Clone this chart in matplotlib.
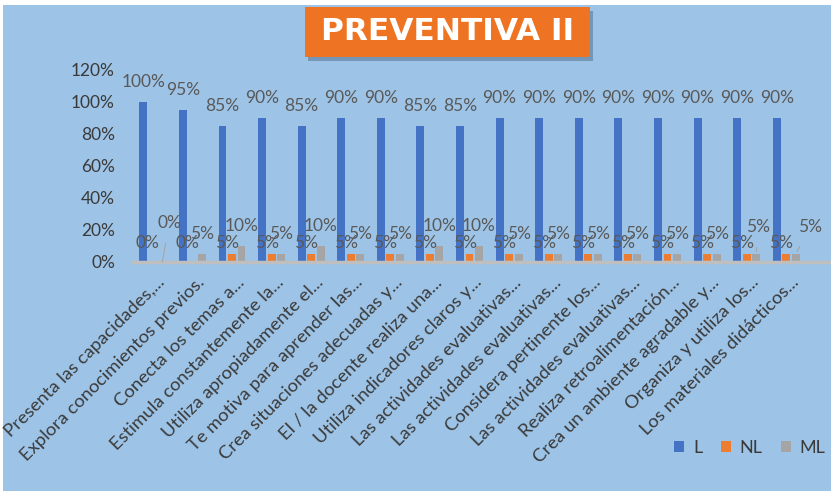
import matplotlib.pyplot as plt
import matplotlib.patches as mpatches
import numpy as np
from matplotlib.transforms import ScaledTranslation

categorias = [
    "Presenta las capacidades,...",
    "Explora conocimientos previos.",
    "Conecta los temas a...",
    "Estimula constantemente la...",
    "Utiliza apropiadamente el...",
    "Te motiva para aprender las...",
    "Crea situaciones adecuadas y...",
    "El / la docente realiza una...",
    "Utiliza indicadores claros y...",
    "Las actividades evaluativas...",
    "Las actividades evaluativas...",
    "Considera pertinente los...",
    "Las actividades evaluativas...",
    "Realiza retroalimentación...",
    "Crea un ambiente agradable y...",
    "Organiza y utiliza los...",
    "Los materiales didácticos...",
]
L = [100, 95, 85, 90, 85, 90, 90, 85, 85, 90, 90, 90, 90, 90, 90, 90, 90]
NL = [0, 0, 5, 5, 5, 5, 5, 5, 5, 5, 5, 5, 5, 5, 5, 5, 5]
ML = [0, 5, 10, 5, 10, 5, 5, 10, 10, 5, 5, 5, 5, 5, 5, 5, 5]
yticks = [0, 20, 40, 60, 80, 100, 120]

fondo = "#9DC3E6"
c_L, c_NL, c_ML = "#4472C4", "#ED7D31", "#A5A5A5"
gris = "#595959"
plt.rcParams['font.family'] = ['Lato', 'DejaVu Sans']

fig = plt.figure(figsize=(8.31, 4.91), dpi=100, facecolor="white")
# fondo azul con pequeño margen blanco arriba/izquierda
fig.patches.append(mpatches.Rectangle((3/831, 0), 1, 1 - 5/491, transform=fig.transFigure,
                                      facecolor=fondo, edgecolor="none", zorder=-10))

ax = fig.add_axes([133/831, 1 - 262/491, 1 - 133/831, (262 - 70)/491])
ax.set_facecolor("none")

x = np.arange(len(categorias))
w = 0.2
d = 0.24
ax.bar(x - d, np.array(L) / 100, w, color=c_L, label="L")
ax.bar(x, np.array(NL) / 100, w, color=c_NL, label="NL")
ax.bar(x + d, np.array(ML) / 100, w, color=c_ML, label="ML")

ax.set_ylim(0, 1.2)
ax.set_xlim(-0.5, 17.13)
ax.set_yticks([v / 100 for v in yticks])
ax.set_yticklabels([f"{v}%" for v in yticks], fontsize=12.5, color="#3a3a3a")
ax.tick_params(axis='y', length=0, pad=13)
ax.tick_params(axis='x', length=0, pad=15.5)
for s in ["top", "right", "left"]:
    ax.spines[s].set_visible(False)
ax.spines["bottom"].set_color("#BFBFBF")
ax.spines["bottom"].set_linewidth(2.5)

ax.set_xticks(x)
ax.set_xticklabels(categorias, rotation=45, ha="right", va="baseline",
                   rotation_mode="anchor", fontsize=13.3, color="#3a3a3a")
off = ScaledTranslation(13/100, 0, fig.dpi_scale_trans)
for lab in ax.get_xticklabels():
    lab.set_transform(lab.get_transform() + off)

kw = dict(textcoords="offset pixels", ha="center", va="center", fontsize=12.5, color=gris)
for i in range(len(categorias)):
    ax.annotate(f"{L[i]}%", (x[i] - d, L[i] / 100), xytext=(0, 20), **kw)
    dy = 11 if NL[i] > 0 else 19
    ax.annotate(f"{NL[i]}%", (x[i], NL[i] / 100), xytext=(-5, dy), **kw)
    # etiquetas ML desplazadas con línea guía
    if i == 0:
        ax.annotate(f"{ML[i]}%", (x[i] + d, ML[i] / 100), xytext=(7, 39),
                    arrowprops=dict(arrowstyle="-", color="#A6A6A6", lw=0.8, shrinkA=7, shrinkB=0), **kw)
    elif i == 15:
        ax.annotate(f"{ML[i]}%", (x[i] + d, ML[i] / 100), xytext=(2, 27),
                    arrowprops=dict(arrowstyle="-", color="#A6A6A6", lw=0.8, shrinkA=7, shrinkB=2), **kw)
    elif i == 16:
        ax.annotate(f"{ML[i]}%", (x[i] + d, ML[i] / 100), xytext=(14, 27),
                    arrowprops=dict(arrowstyle="-", color="#A6A6A6", lw=0.8, shrinkA=7, shrinkB=2), **kw)
    else:
        ax.annotate(f"{ML[i]}%", (x[i] + d, ML[i] / 100), xytext=(0, 20), **kw)

# leyenda
fig.legend(loc="center right", bbox_to_anchor=(1.0, 1 - 448/491), ncol=3, frameon=False,
           fontsize=13, handlelength=0.55, handleheight=0.55, handletextpad=0.5,
           columnspacing=1.0, borderaxespad=0.2, borderpad=0.1, labelcolor="#3a3a3a")

# título en recuadro naranja con sombra
bx, by, bw, bh = 305/831, 1 - 57/491, (590 - 305)/831, (57 - 7)/491
fig.patches.append(mpatches.Rectangle((bx + 3/831, by - 4/491), bw, bh, transform=fig.transFigure,
                                      facecolor="#5a7a99", edgecolor="none", alpha=0.6, zorder=1))
fig.patches.append(mpatches.Rectangle((bx, by), bw, bh, transform=fig.transFigure,
                                      facecolor="#EE7424", edgecolor="none", zorder=2))
fig.text(bx + bw / 2, by + bh / 2, "PREVENTIVA II", ha="center", va="center",
         fontsize=22.5, fontweight="bold", color="white", family=["DejaVu Sans"], zorder=3)

fig.savefig("out.png", dpi=100, facecolor=fig.get_facecolor())
